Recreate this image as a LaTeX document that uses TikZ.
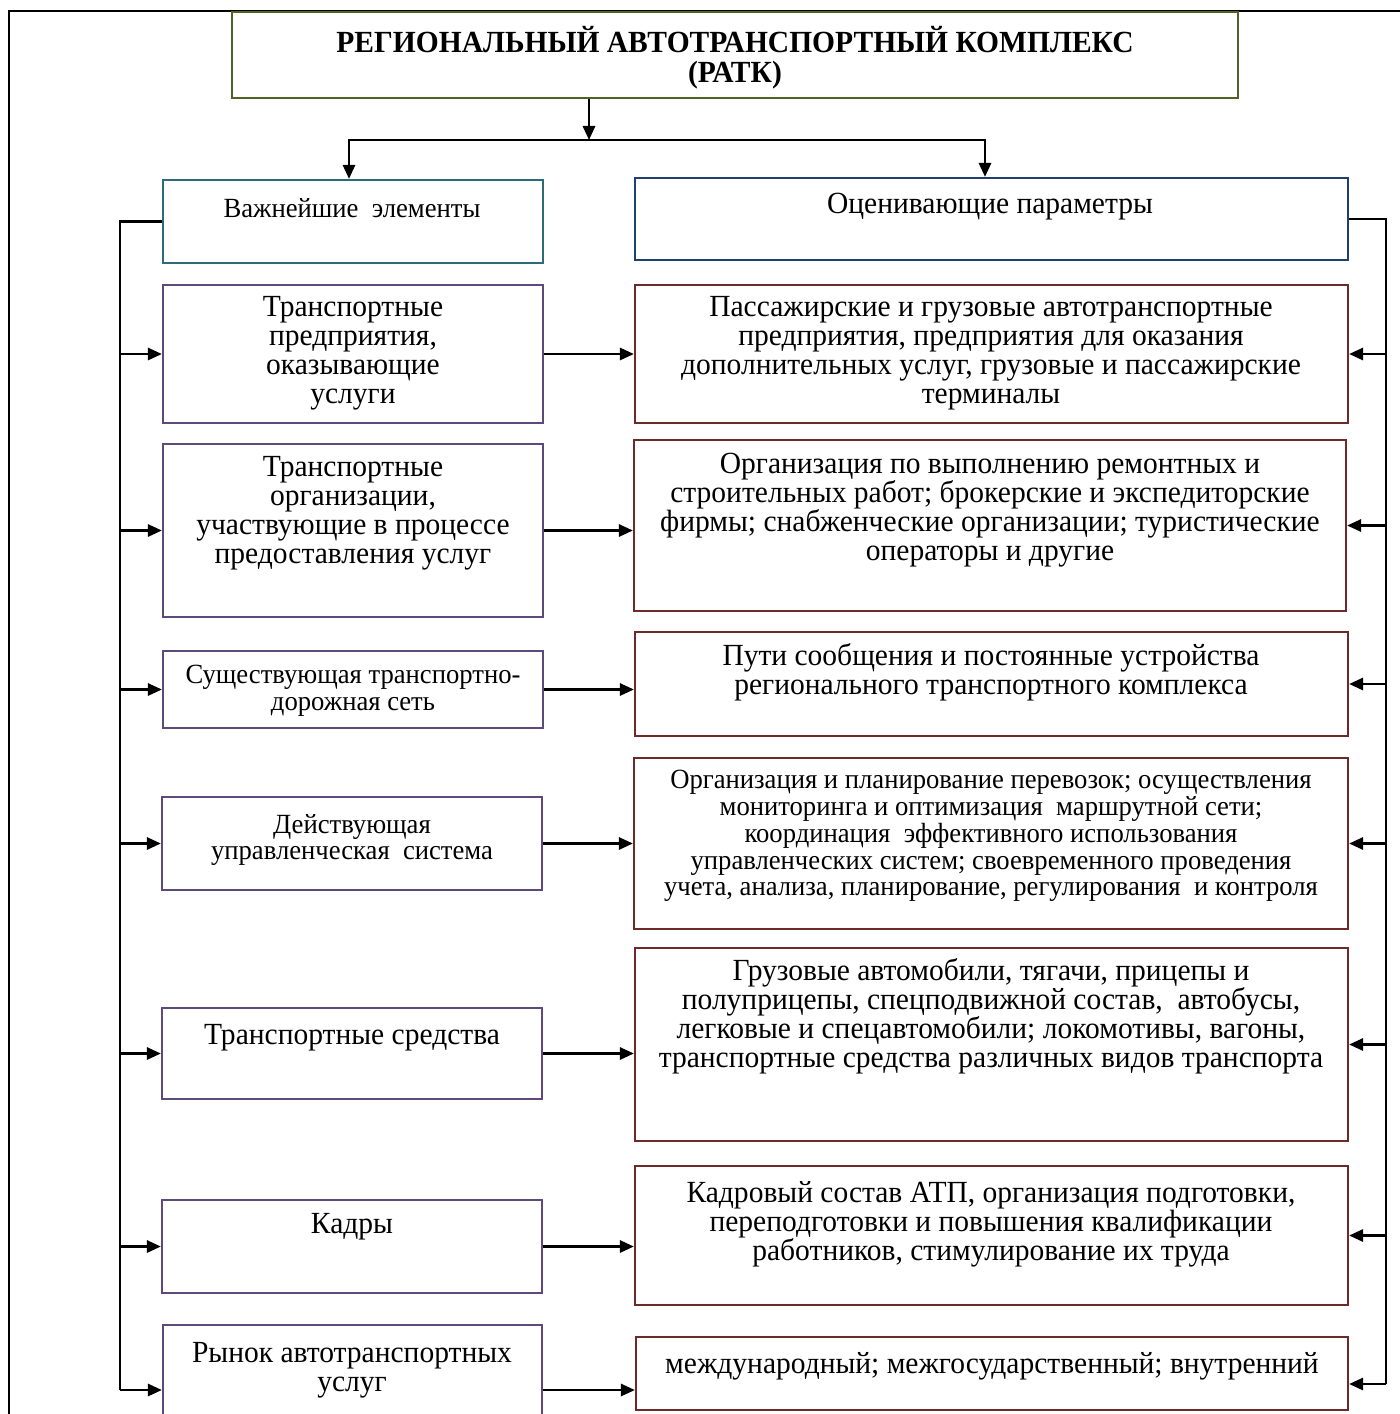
\documentclass[tikz,border=0pt]{standalone}
\usepackage{fontspec}
\setmainfont[FakeStretch=0.96]{Liberation Serif}
\usetikzlibrary{positioning,fit,arrows.meta}
\definecolor{titlegreen}{HTML}{4F6228}
\definecolor{headteal}{HTML}{2E6B78}
\definecolor{headblue}{HTML}{1F3F6E}
\definecolor{elempurple}{HTML}{5F497A}
\definecolor{paramred}{HTML}{6E2A2A}

\begin{document}
\begin{tikzpicture}[x=0.02cm, y=-0.02cm,
  box/.style={draw, line width=1.3pt, inner sep=0pt, fit={#1}},
  elem/.style={box={#1}, draw=elempurple},
  param/.style={box={#1}, draw=paramred},
  txt/.style={align=center, inner sep=0pt, font=\fontsize{17.5}{16.5}\selectfont},
  small/.style={align=center, inner sep=0pt, font=\fontsize{15.8}{15.3}\selectfont},
  arr/.style={-{Triangle[length=8pt,width=7pt]}, line width=1.3pt}]
\useasboundingbox (0,0) rectangle (1400,1414);
\draw[line width=1.6pt] (9,1414) -- (9,11) -- (1400,11);

% header boxes
\node[box={(232,12) (1238,98)}, draw=titlegreen] (ratk) {};
\node[align=center, inner sep=0pt, font=\fontsize{17.5}{17}\selectfont\bfseries] (ratkt) at (735,58)
  {РЕГИОНАЛЬНЫЙ АВТОТРАНСПОРТНЫЙ КОМПЛЕКС\\(РАТК)};
\node[box={(163,180) (543,263)}, draw=headteal] (lhead) {};
\node[small] (lheadt) at (352,208) {Важнейшие\ \ элементы};
\node[box={(635,178) (1348,260)}, draw=headblue] (rhead) {};
\node[txt] (rheadt) at (990,207) {Оценивающие параметры};

% left column
\node[elem={(163,285) (543,423)}] (l1) {};
\node[txt] (l1t) at (353,353) {Транспортные\\предприятия,\\оказывающие\\услуги};
\node[elem={(163,444) (543,617)}] (l2) {};
\node[txt] (l2t) at (353,513) {Транспортные\\организации,\\участвующие в процессе\\предоставления услуг};
\node[elem={(163,651) (543,728)}] (l3) {};
\node[small] (l3t) at (353,691) {Существующая транспортно-\\дорожная сеть};
\node[elem={(162,797) (542,890)}] (l4) {};
\node[small] (l4t) at (352,840) {Действующая\\управленческая\ \ система};
\node[elem={(162,1008) (542,1099)}] (l5) {};
\node[txt] (l5t) at (352,1038) {Транспортные средства};
\node[elem={(162,1200) (542,1293)}] (l6) {};
\node[txt] (l6t) at (352,1227) {Кадры};
\node[elem={(163,1325) (542,1455)}] (l7) {};
\node[txt] (l7t) at (352,1370) {Рынок автотранспортных\\услуг};

% right column
\node[param={(635,285) (1348,423)}] (r1) {};
\node[txt] (r1t) at (991,353) {Пассажирские и грузовые автотранспортные\\предприятия, предприятия для оказания\\дополнительных услуг, грузовые и пассажирские\\терминалы};
\node[param={(634,440) (1346,611)}] (r2) {};
\node[txt] (r2t) at (990,510) {Организация по выполнению ремонтных и\\строительных работ; брокерские и экспедиторские\\фирмы; снабженческие организации; туристические\\операторы и другие};
\node[param={(635,632) (1348,736)}] (r3) {};
\node[txt] (r3t) at (991,672) {Пути сообщения и постоянные устройства\\регионального транспортного комплекса};
\node[param={(634,758) (1348,929)}] (r4) {};
\node[small] (r4t) at (991,836) {Организация и планирование перевозок; осуществления\\мониторинга и оптимизация\ \ маршрутной сети;\\координация\ \ эффективного использования\\управленческих систем; своевременного проведения\\учета, анализа, планирование, регулирования\ \ и контроля};
\node[param={(635,948) (1348,1141)}] (r5) {};
\node[txt] (r5t) at (991,1016) {Грузовые автомобили, тягачи, прицепы и\\полуприцепы, спецподвижной состав,\ \ автобусы,\\легковые и спецавтомобили; локомотивы, вагоны,\\транспортные средства различных видов транспорта};
\node[param={(635,1166) (1348,1305)}] (r6) {};
\node[txt] (r6t) at (991,1224) {Кадровый состав АТП, организация подготовки,\\переподготовки и повышения квалификации\\работников, стимулирование их труда};
\node[param={(636,1337) (1348,1410)}] (r7) {};
\node[txt] (r7t) at (992,1366) {международный; межгосударственный; внутренний};

% connectors
\coordinate (split) at (589,140);
\coordinate (lbus) at (120,1390);
\coordinate (rbus) at (1386,1384);
\draw[arr] (ratk.south -| split) -- (split);
\draw[arr] (split) -| (lhead.north -| 349,0);
\draw[arr] (split) -| (rhead.north -| 985,0);
\draw[line width=1.3pt] (lhead.west) -| (lbus);
\draw[line width=1.3pt] (rhead.east) -| (rbus);
\foreach \b in {l1,l2,l3,l4,l5,l6,l7}
  \draw[arr] (lbus |- \b.west) -- (\b.west);
\foreach \b in {r1,r2,r3,r4,r5,r6}
  \draw[arr] (rbus |- \b.east) -- (\b.east);
\draw[arr] (rbus) -- (rbus -| r7.east);
\foreach \a/\b in {l1/r1,l2/r2,l3/r3,l4/r4,l5/r5,l6/r6,l7/r7}
  \draw[arr] (\a.east) -- (\a.east -| \b.west);
\end{tikzpicture}
\end{document}
